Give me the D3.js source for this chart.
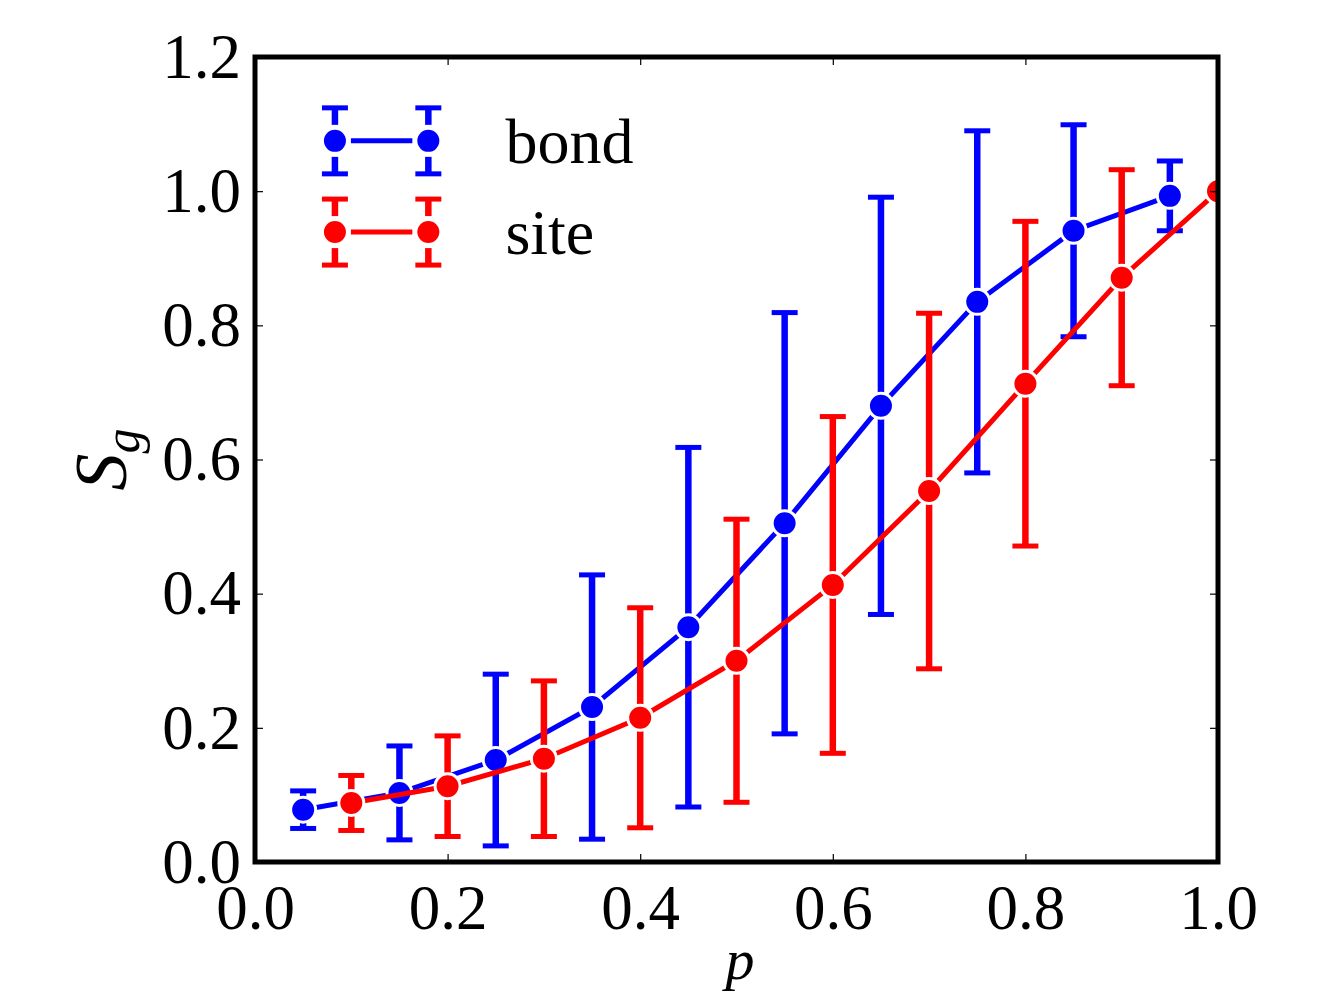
<!DOCTYPE html>
<html>
<head>
<meta charset="utf-8">
<script src="https://cdn.jsdelivr.net/npm/d3@7"></script>
<style>
  body { margin: 0; background: #fff; }
  svg { display: block; font-family: "Liberation Serif", "DejaVu Serif", serif; }
</style>
</head>
<body>
<div id="chart"></div>
<script>
// data
const bondP = [0.05, 0.15, 0.25, 0.35, 0.45, 0.55, 0.65, 0.75, 0.85, 0.95];
const bondS = [0.078, 0.103, 0.152, 0.231, 0.350, 0.505, 0.680, 0.835, 0.941, 0.993];
const bondErr = [0.028, 0.070, 0.128, 0.197, 0.268, 0.314, 0.311, 0.255, 0.158, 0.052];

const siteP = [0.1, 0.2, 0.3, 0.4, 0.5, 0.6, 0.7, 0.8, 0.9, 1.0];
const siteS = [0.088, 0.113, 0.154, 0.215, 0.300, 0.413, 0.553, 0.713, 0.871, 1.0];
const siteErr = [0.041, 0.075, 0.116, 0.164, 0.211, 0.251, 0.265, 0.242, 0.161, 0];

const xTicks = [0, 0.2, 0.4, 0.6, 0.8, 1.0];
const yTicks = [0, 0.2, 0.4, 0.6, 0.8, 1.0, 1.2];

const series = [
  { name: "bond", color: "#0000ff", p: bondP, s: bondS, e: bondErr },
  { name: "site", color: "#ff0000", p: siteP, s: siteS, e: siteErr }
];

const width = 1324, height = 995;
const margin = { top: 57, right: 106, bottom: 133, left: 255 };
const iw = width - margin.left - margin.right;
const ih = height - margin.top - margin.bottom;

const x = d3.scaleLinear().domain([0, 1]).range([0, iw]);
const y = d3.scaleLinear().domain([0, 1.2]).range([ih, 0]);

const svg = d3.select("#chart").append("svg")
    .attr("width", width)
    .attr("height", height);

const g = svg.append("g")
    .attr("transform", `translate(${margin.left},${margin.top})`);

svg.append("defs").append("clipPath")
    .attr("id", "clip")
  .append("rect")
    .attr("width", iw)
    .attr("height", ih);

const plot = g.append("g").attr("clip-path", "url(#clip)");

const capW = 13, barW = 6.5, lineW = 5, markR = 12.5, edgeW = 3;
series.forEach(sr => {
  const pts = sr.p.map((p, i) => ({ p: p, s: sr.s[i], e: sr.e[i] }));
  const bars = plot.append("g")
      .attr("stroke", sr.color);
  pts.filter(d => d.e > 0).forEach(d => {
    const cx = x(d.p);
    bars.append("line")
        .attr("stroke-width", barW)
        .attr("x1", cx).attr("x2", cx)
        .attr("y1", y(d.s - d.e)).attr("y2", y(d.s + d.e));
    [d.s - d.e, d.s + d.e].forEach(v => {
      bars.append("line")
          .attr("stroke-width", 5)
          .attr("x1", cx - capW).attr("x2", cx + capW)
          .attr("y1", y(v)).attr("y2", y(v));
    });
  });
  plot.append("path")
      .datum(pts)
      .attr("fill", "none")
      .attr("stroke", sr.color)
      .attr("stroke-width", lineW)
      .attr("d", d3.line().x(d => x(d.p)).y(d => y(d.s)));
  plot.append("g")
    .selectAll("circle")
    .data(pts)
    .join("circle")
      .attr("cx", d => x(d.p))
      .attr("cy", d => y(d.s))
      .attr("r", markR)
      .attr("fill", sr.color)
      .attr("stroke", "#fff")
      .attr("stroke-width", edgeW);
});

// axes: inward ticks on all four sides
const fmt = d3.format(".1f");
function styleAxis(a) {
  a.select(".domain").remove();
  a.selectAll(".tick line").attr("stroke", "#000").attr("stroke-width", 1.2);
  a.selectAll(".tick text").attr("font-size", 63).attr("fill", "#000")
      .attr("font-family", "Liberation Serif, serif");
}
g.append("g")
    .attr("transform", `translate(0,${ih})`)
    .call(d3.axisBottom(x).tickValues(xTicks).tickFormat(fmt).tickSizeInner(-8).tickSizeOuter(0).tickPadding(22))
    .call(styleAxis);
g.append("g")
    .call(d3.axisTop(x).tickValues(xTicks).tickFormat("").tickSizeInner(-8).tickSizeOuter(0))
    .call(styleAxis);
g.append("g")
    .call(d3.axisLeft(y).tickValues(yTicks).tickFormat(fmt).tickSizeInner(-8).tickSizeOuter(0).tickPadding(14))
    .call(styleAxis);
g.append("g")
    .attr("transform", `translate(${iw},0)`)
    .call(d3.axisRight(y).tickValues(yTicks).tickFormat("").tickSizeInner(-8).tickSizeOuter(0))
    .call(styleAxis);

g.append("rect")
    .attr("width", iw)
    .attr("height", ih)
    .attr("fill", "none")
    .attr("stroke", "#000")
    .attr("stroke-width", 5);

// axis labels
svg.append("text")
    .attr("x", 740)
    .attr("y", 979)
    .attr("text-anchor", "middle")
    .attr("font-size", 58)
    .attr("font-style", "italic")
    .text("p");

const yl = svg.append("text")
    .attr("transform", `translate(126,${margin.top + ih / 2}) rotate(-90)`)
    .attr("text-anchor", "middle")
    .attr("font-size", 74)
    .attr("font-style", "italic");
yl.append("tspan").text("S");
yl.append("tspan").attr("font-size", 50).attr("dy", 13).text("g");

// legend
const legend = g.append("g");
const legX1 = x(0.083), legX2 = x(0.180);
series.forEach((sr, i) => {
  const cy = y(1.075 - i * 0.136);
  const row = legend.append("g");
  [legX1, legX2].forEach(cx => {
    row.append("line")
        .attr("x1", cx).attr("x2", cx)
        .attr("y1", cy - 33).attr("y2", cy + 33)
        .attr("stroke", sr.color).attr("stroke-width", barW);
    [cy - 33, cy + 33].forEach(v => {
      row.append("line")
          .attr("x1", cx - capW).attr("x2", cx + capW)
          .attr("y1", v).attr("y2", v)
          .attr("stroke", sr.color).attr("stroke-width", 5);
    });
    row.append("rect")
        .attr("x", cx - 16).attr("y", cy - 16)
        .attr("width", 32).attr("height", 32)
        .attr("fill", "#fff");
    row.append("circle")
        .attr("cx", cx).attr("cy", cy).attr("r", markR)
        .attr("fill", sr.color)
        .attr("stroke", "#fff").attr("stroke-width", edgeW);
  });
  row.append("line")
      .attr("x1", legX1 + 16).attr("x2", legX2 - 16)
      .attr("y1", cy).attr("y2", cy)
      .attr("stroke", sr.color).attr("stroke-width", lineW);
  row.append("text")
      .attr("x", x(0.26))
      .attr("y", cy + 22)
      .attr("font-size", 64)
      .text(sr.name);
});
</script>
</body>
</html>
